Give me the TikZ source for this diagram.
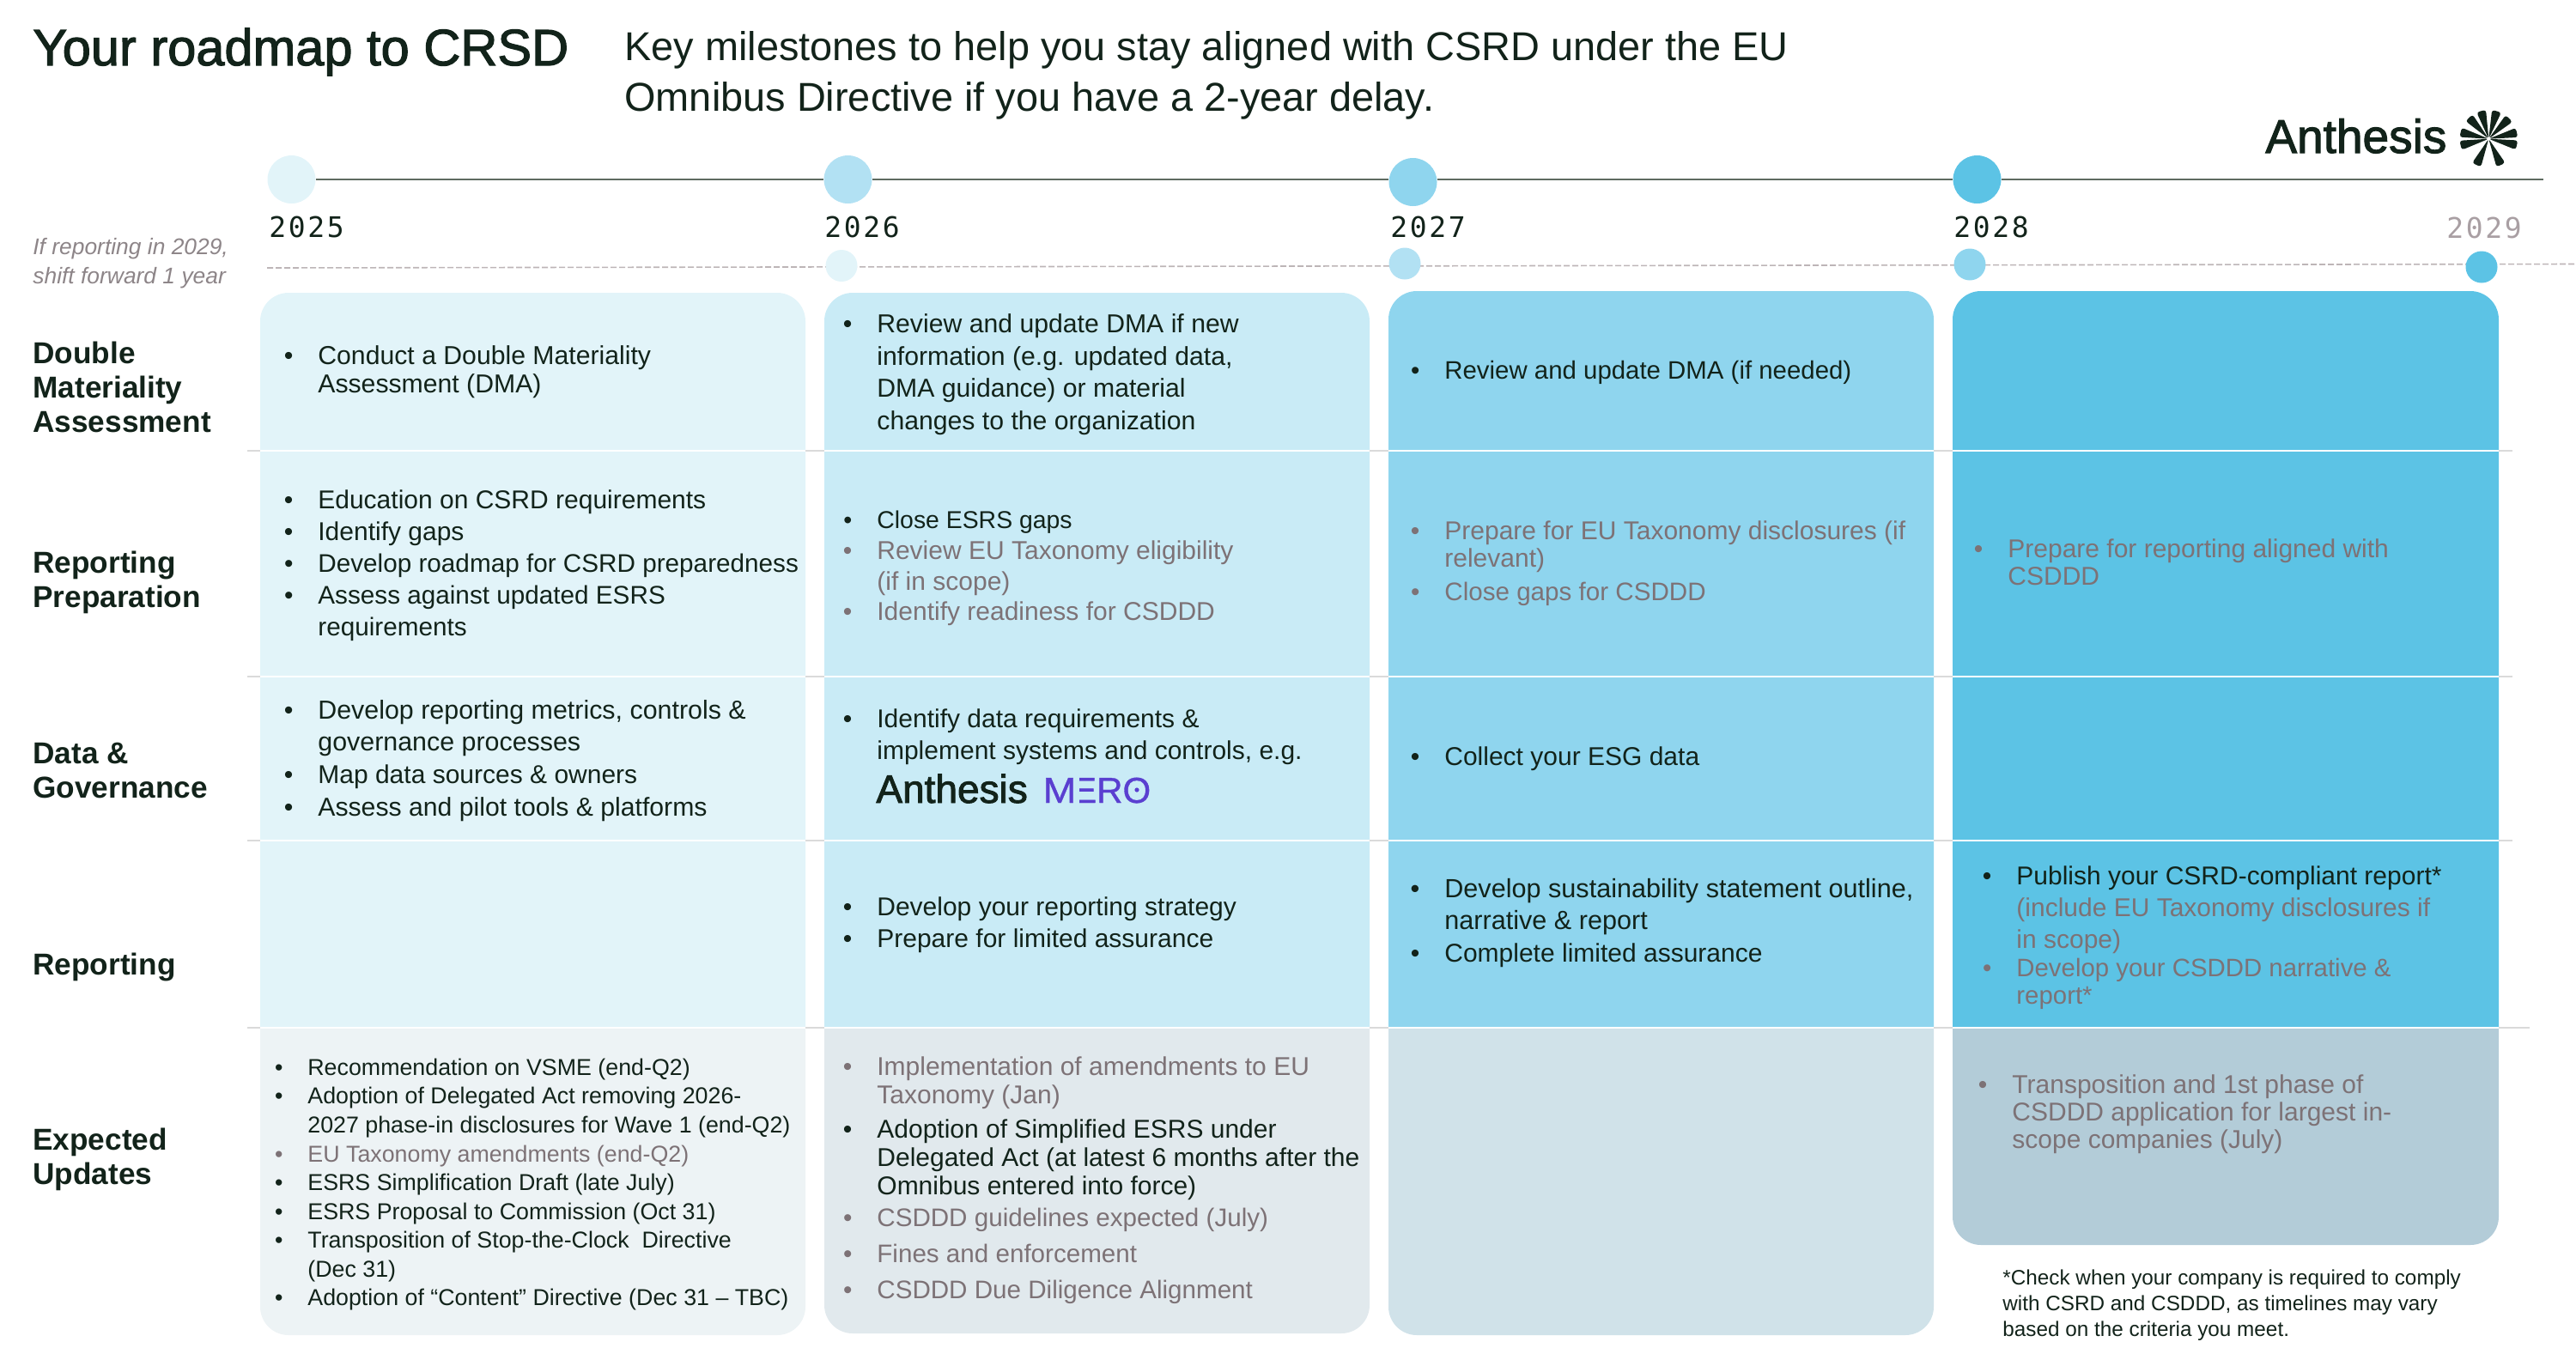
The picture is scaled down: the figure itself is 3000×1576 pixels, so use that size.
\documentclass[tikz,border=0pt]{standalone}
\usepackage{fontspec}
\setmainfont{Liberation Sans}
\newfontfamily\yearfont[LetterSpace=8]{DejaVu Sans Mono}
\newfontfamily\medfont[FakeBold=2]{Liberation Sans}
\newfontfamily\merofont[FakeBold=0.8]{Liberation Sans}
\definecolor{ink}{HTML}{12231A}
\definecolor{greytext}{HTML}{7D7276}
\definecolor{yeargrey}{HTML}{A99FA3}
\definecolor{notegrey}{HTML}{8D8588}
\definecolor{axis}{HTML}{5F6B60}
\definecolor{dashgrey}{HTML}{BDB5B7}
\definecolor{ruleline}{HTML}{DADADA}
\definecolor{cola}{HTML}{E2F4F9}
\definecolor{colb}{HTML}{C9EBF6}
\definecolor{colc}{HTML}{8FD5EE}
\definecolor{cold}{HTML}{5CC3E5}
\definecolor{dotb}{HTML}{B2E1F3}
\definecolor{cole}{HTML}{EDF3F5}
\definecolor{colf}{HTML}{E1E9ED}
\definecolor{colg}{HTML}{D0E2E9}
\definecolor{colh}{HTML}{B3CCD8}
\definecolor{mero}{HTML}{5A3FD0}
\tikzset{
  celltext/.style={anchor=north west,inner sep=0pt,align=left},
  rowlabel/.style={anchor=north west,inner sep=0pt,align=left,text=ink,font=\fontsize{17.6pt}{20pt}\selectfont\bfseries},
  yearlabel/.style={anchor=base west,inner sep=0pt,text=ink,font=\fontsize{16.5pt}{20pt}\selectfont\yearfont},
  bigdot/.style={circle,minimum size=28pt,inner sep=0pt},
  smalldot/.style={circle,minimum size=18.5pt,inner sep=0pt},
  axisline/.style={draw=axis,line width=1.3pt},
  dashline/.style={draw=dashgrey,line width=0.8pt,dash pattern=on 3.5pt off 1.5pt},
  roundtop/.style={rounded corners=16.5pt},
}
\newcommand\bcell[7]{% name, x, baseline, size, leading, colour, text
  \pgfmathsetmacro\ynorth{#3+1.5-1.4*#5}
  \node[celltext,text=#6,font=\fontsize{#4pt}{#5pt}\selectfont] (#1) at (#2,\ynorth)
    {\strut\llap{\textbullet\hspace{14.5pt}}#7};}
\newcommand\plain[6]{% name, x, baseline, size, leading, text
  \pgfmathsetmacro\ynorth{#3-1.4*#5}
  \node[celltext,text=ink,font=\fontsize{#4pt}{#5pt}\selectfont] (#1) at (#2,\ynorth)
    {\strut#6};}
\newcommand\rowlab[3]{% name, baseline, text
  \pgfmathsetmacro\ynorth{#2+1.5-28}
  \node[rowlabel] (#1) at (38,\ynorth) {\strut#3};}
\begin{document}
\begin{tikzpicture}[x=0.5pt,y=-0.5pt]
\useasboundingbox (0,0) rectangle (3000,1576);
% --- column bodies
\fill[cola] (303,1197) [roundtop] -- (303,341) -- (938,341) [sharp corners] -- (938,1197) -- cycle;
\fill[colb] (960,1197) [roundtop] -- (960,341) -- (1595,341) [sharp corners] -- (1595,1197) -- cycle;
\fill[colc] (1617,1197) [roundtop] -- (1617,339) -- (2252,339) [sharp corners] -- (2252,1197) -- cycle;
\fill[cold] (2274,1197) [roundtop] -- (2274,339) -- (2910,339) [sharp corners] -- (2910,1197) -- cycle;
\fill[cole] (303,1197) [roundtop] -- (303,1555) -- (938,1555) [sharp corners] -- (938,1197) -- cycle;
\fill[colf] (960,1197) [roundtop] -- (960,1553) -- (1595,1553) [sharp corners] -- (1595,1197) -- cycle;
\fill[colg] (1617,1197) [roundtop] -- (1617,1555) -- (2252,1555) [sharp corners] -- (2252,1197) -- cycle;
\fill[colh] (2274,1197) [roundtop] -- (2274,1450) -- (2910,1450) [sharp corners] -- (2910,1197) -- cycle;
% --- row rules
\foreach \yy/\xe in {525/2926,788/2926,979/2926,1197/2946}{
  \draw[ruleline,line width=1pt] (288,\yy) -- (\xe,\yy);
  \foreach \xa/\xb in {303/938,960/1595,1617/2252,2274/2910}
    \draw[white,line width=1.2pt] (\xa,\yy) -- (\xb,\yy);
}
% --- timelines
\coordinate (axisend) at (2962,209);
\coordinate (dashstart) at (311,312);
\coordinate (dashend) at (3000,307.5);
\draw[dashline] (dashstart) -- (dashend);
\node[bigdot,fill=cola] (d25) at (339.5,209) {};
\node[bigdot,fill=dotb] (d26) at (987.5,209) {};
\node[bigdot,fill=colc] (d27) at (1645.5,212) {};
\node[bigdot,fill=cold] (d28) at (2302.5,209) {};
\draw[axisline] (d25.east) -- (d26.west);
\draw[axisline] (d26.east) -- (d27.west |- d26.east);
\draw[axisline] (d27.east |- d28.west) -- (d28.west);
\draw[axisline] (d28.east) -- (axisend);
\node[smalldot,fill=cola] (s26) at (980,309.5) {};
\node[smalldot,fill=dotb] (s27) at (1636,307) {};
\node[smalldot,fill=colc] (s28) at (2294,308) {};
\node[smalldot,fill=cold] (s29) at (2890,311) {};
\node[yearlabel] (y25) at (313,276) {2025};
\node[yearlabel] (y26) at (960,276) {2026};
\node[yearlabel] (y27) at (1619,276) {2027};
\node[yearlabel] (y28) at (2275,276) {2028};
\node[yearlabel,text=yeargrey] (y29) at (2849,277.5) {2029};
% --- heading
\node[anchor=base west,inner sep=0pt,text=ink,font=\fontsize{29.8pt}{34pt}\selectfont\medfont] (title) at (38,76) {Your roadmap to CRSD};
\node[anchor=north west,inner sep=0pt,align=left,text=ink,font=\fontsize{23.45pt}{29.5pt}\selectfont] (subtitle) at (727,29) {\strut Key milestones to help you stay aligned with CSRD under the EU\\Omnibus Directive if you have a 2-year delay.};
% --- logo
\node[anchor=base west,inner sep=0pt,text=ink,font=\fontsize{27.5pt}{30pt}\selectfont\medfont] (logo) at (2638,178) {Anthesis};
\begin{scope}[shift={(2898.3,161.7)}]
\foreach \aa in {105,74,133,45,167,12.5,193,-12.5,245,-65}
  \fill[ink,rounded corners=1.6pt] (0,0) -- ({34*cos(\aa-9.5)},{-34*sin(\aa-9.5)}) -- ({34*cos(\aa+9.5)},{-34*sin(\aa+9.5)}) -- cycle;
\end{scope}
% --- side note
\node[anchor=north west,inner sep=0pt,align=left,text=notegrey,font=\fontsize{13.2pt}{17pt}\selectfont\itshape] (shift) at (38,272) {\strut If reporting in 2029,\\shift forward 1 year};
% --- row labels
\rowlab{r1}{422}{Double\\Materiality\\Assessment}
\rowlab{r2}{666}{Reporting\\Preparation}
\rowlab{r3}{888}{Data \&\\Governance}
\rowlab{r4}{1134}{Reporting}
\rowlab{r5}{1338}{Expected\\Updates}
% --- column 2025
\bcell{a1}{370}{423}{15.1}{16.2}{ink}{Conduct a Double Materiality\\Assessment (DMA)}
\bcell{a2}{370}{591}{15}{18.5}{ink}{Education on CSRD requirements}
\bcell{a3}{370}{628}{15}{18.5}{ink}{Identify gaps}
\bcell{a4}{370}{665}{14.85}{18.5}{ink}{Develop roadmap for CSRD preparedness}
\bcell{a5}{370}{702}{14.85}{18.5}{ink}{Assess against updated ESRS\\requirements}
\bcell{a6}{370}{836}{15.2}{18.5}{ink}{Develop reporting metrics, controls \&\\governance processes}
\bcell{a7}{370}{911}{15}{18.5}{ink}{Map data sources \& owners}
\bcell{a8}{370}{949}{15.1}{18.5}{ink}{Assess and pilot tools \& platforms}
\bcell{e1}{358}{1251}{13.4}{16.8}{ink}{Recommendation on VSME (end-Q2)}
\bcell{e2}{358}{1284}{13.4}{16.8}{ink}{Adoption of Delegated Act removing 2026-\\2027 phase-in disclosures for Wave 1 (end-Q2)}
\bcell{e3}{358}{1352}{13.4}{16.8}{greytext}{EU Taxonomy amendments (end-Q2)}
\bcell{e4}{358}{1385}{13.4}{16.8}{ink}{ESRS Simplification Draft (late July)}
\bcell{e5}{358}{1419}{13.4}{16.8}{ink}{ESRS Proposal to Commission (Oct 31)}
\bcell{e6}{358}{1452}{13.4}{16.8}{ink}{Transposition of Stop-the-Clock~~Directive\\(Dec 31)}
\bcell{e7}{358}{1519}{13.4}{16.8}{ink}{Adoption of “Content” Directive (Dec 31 – TBC)}
% --- column 2026
\bcell{b1}{1021}{386}{15.1}{18.7}{ink}{Review and update DMA if new\\information (e.g. updated data,\\DMA guidance) or material\\changes to the organization}
\bcell{b2}{1021}{614}{14.2}{18.5}{ink}{Close ESRS gaps}
\bcell{b3}{1021}{650}{15}{18}{greytext}{Review EU Taxonomy eligibility\\(if in scope)}
\bcell{b4}{1021}{721}{15}{18}{greytext}{Identify readiness for CSDDD}
\bcell{b5}{1021}{846}{15}{18.5}{ink}{Identify data requirements \&\\implement systems and controls, e.g.}
\node[anchor=base west,inner sep=0pt,text=ink,font=\fontsize{23pt}{24pt}\selectfont\medfont] (meroa) at (1020,935) {Anthesis};
\node[anchor=base west,inner sep=0pt,text=mero,font=\fontsize{21pt}{24pt}\selectfont\merofont] (merob) at (1214,935) {\scalebox{1.12}[1]{M}\kern-2.2pt ERO};
\fill[colb] (1251.5,900) rectangle (1256.8,938);
\fill[mero] (1324,920) circle (1.3pt);
\bcell{b6}{1021}{1065}{15}{18.5}{ink}{Develop your reporting strategy}
\bcell{b7}{1021}{1102}{15}{18.5}{ink}{Prepare for limited assurance}
\bcell{f1}{1021}{1251}{15}{16.2}{greytext}{Implementation of amendments to EU\\Taxonomy (Jan)}
\bcell{f2}{1021}{1324}{15}{16.5}{ink}{Adoption of Simplified ESRS under\\Delegated Act (at latest 6 months after the\\Omnibus entered into force)}
\bcell{f3}{1021}{1427}{14.8}{16.5}{greytext}{CSDDD guidelines expected (July)}
\bcell{f4}{1021}{1469}{14.8}{16.5}{greytext}{Fines and enforcement}
\bcell{f5}{1021}{1511}{14.8}{16.5}{greytext}{CSDDD Due Diligence Alignment}
% --- column 2027
\bcell{c1}{1682}{440}{14.7}{18.5}{ink}{Review and update DMA (if needed)}
\bcell{c2}{1682}{627}{15}{15.6}{greytext}{Prepare for EU Taxonomy disclosures (if\\relevant)}
\bcell{c3}{1682}{698}{14.8}{18.5}{greytext}{Close gaps for CSDDD}
\bcell{c4}{1682}{890}{15}{18.5}{ink}{Collect your ESG data}
\bcell{c5}{1682}{1044}{15.3}{18.5}{ink}{Develop sustainability statement outline,\\narrative \& report}
\bcell{c6}{1682}{1119}{15}{18.5}{ink}{Complete limited assurance}
% --- column 2028
\bcell{d1}{2338}{648}{15}{16}{greytext}{Prepare for reporting aligned with\\CSDDD}
\bcell{d2}{2348}{1029}{15}{18.5}{ink}{Publish your CSRD-compliant report*\\\textcolor{greytext}{(include EU Taxonomy disclosures if}\\\textcolor{greytext}{in scope)}}
\bcell{d3}{2348}{1136}{14.7}{15.6}{greytext}{Develop your CSDDD narrative \&\\report*}
\bcell{h1}{2343}{1272}{15}{16}{greytext}{Transposition and 1st phase of\\CSDDD application for largest in-\\scope companies (July)}
\plain{note}{2332}{1496}{12.15}{15}{*Check when your company is required to comply\\with CSRD and CSDDD, as timelines may vary\\based on the criteria you meet.}
\end{tikzpicture}
\end{document}
